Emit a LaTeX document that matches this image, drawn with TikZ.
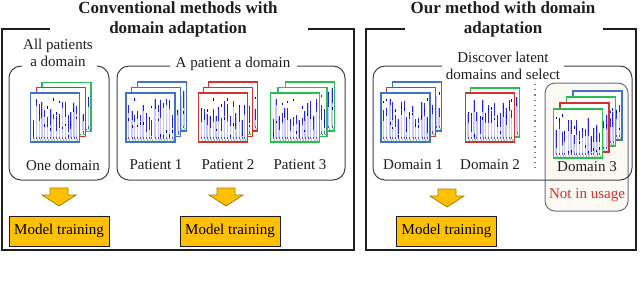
\documentclass[tikz,border=0pt]{standalone}
\usepackage{fontspec}
\setmainfont{Liberation Serif}

\definecolor{fblue}{RGB}{68,114,196}
\definecolor{fred}{RGB}{210,50,50}
\definecolor{fgreen}{RGB}{40,190,80}
\definecolor{gold}{RGB}{255,192,0}
\definecolor{goldline}{RGB}{170,125,0}
\definecolor{beige}{RGB}{252,249,242}
\definecolor{slate}{RGB}{100,112,140}
\definecolor{specblue}{RGB}{0,0,235}
\definecolor{ink}{RGB}{30,30,30}

\tikzset{
  outerbox/.style={line width=0.65pt, draw=ink},
  innerbox/.style={line width=0.5pt, draw=ink!85, rounded corners=6pt},
  % streaks, drawn round the frame's centre
  spec/.style={path picture={
    \foreach \i in {0,...,15} {
      \pgfmathsetmacro{\sx}{-22+2.9*\i+0.8*rnd}
      \pgfmathsetmacro{\sa}{-19+22*rnd}
      \pgfmathsetmacro{\sb}{\sa+5+14*rnd}
      \pgfmathsetmacro{\sy}{-20+38*rnd}
      \draw[specblue!22, line width=0.7pt] (\sx,\sa) -- (\sx,20);
      \draw[specblue!85, line width=0.5pt] (\sx,\sa) -- (\sx,\sb);
      \draw[specblue, line width=0.5pt] (\sx,\sy) -- (\sx,\sy+2.5);
      \draw[specblue!70, line width=0.4pt] (\sx,19) -- (\sx,21.5);
      \fill[fgreen!80!black] (\sx+1,22.5) circle (0.35pt);
    }}},
  frame/.style={minimum size=24.5pt, inner sep=0pt, fill=white, line width=0.6pt, spec},
  trainbox/.style={draw=ink, line width=0.5pt, fill=gold, minimum width=50pt,
    minimum height=15pt, inner sep=0pt},
  title/.style={font=\bfseries\fontsize{8.5}{10}\selectfont, text=ink, align=center, inner sep=0pt},
  lbl/.style={font=\fontsize{7.5}{8.5}\selectfont, text=ink, align=center, inner sep=0pt},
  blockarr/.style={fill=gold, draw=goldline, line width=0.4pt},
  pics/blockdown/.style={code={
    \draw[blockarr] (-9,0) -- (9,0) -- (9,7) -- (17,7) -- (0,18) -- (-17,7) -- (-9,7) -- cycle;}}
}

\begin{document}
\begin{tikzpicture}[x=0.5pt, y=-0.5pt, every node/.style={font=\fontsize{7.5}{8.5}\selectfont}]
  \pgfmathsetseed{11}
  \useasboundingbox (0,0) rectangle (640,284);
  % Outer frames, open at the titles
  \draw[outerbox] (50,29) -- (2,29) -- (2,250) -- (354,250) -- (354,29) -- (308,29);
  \draw[outerbox] (405,29) -- (366,29) -- (366,250) -- (636,250) -- (636,29) -- (603,29);
  \node[title] (title1) at (178,19) {Conventional methods with\\domain adaptation};
  \node[title] (title2) at (503,19) {Our method with domain\\adaptation};
  % Domain 3 panel (drawn below the big rounded box)
  \draw[fill=beige, draw=slate, line width=0.5pt, rounded corners=5pt] (545,83) rectangle (628,211);
  % Inner rounded boxes, open at their labels
  \draw[innerbox] (22,66) -- (9,66) -- (9,180) -- (109,180) -- (109,66) -- (98,66);
  \draw[innerbox] (170,66) -- (117,66) -- (117,180) -- (345,180) -- (345,66) -- (297,66);
  \draw[innerbox] (442,66) -- (373,66) -- (373,180) -- (632,180) -- (632,66) -- (564,66);
  \node[lbl] (allpat) at (58,53) {All patients\\a domain};
  \node[lbl] (onepat) at (233,64) {A patient a domain};
  \node[lbl] (discover) at (503,65.5) {Discover latent\\domains and select};

  % Stacks of spectrograms
  \node[frame, draw=fgreen] (all3) at (66.5,107) {};
  \node[frame, draw=fred] (all2) at (61,112) {};
  \node[frame, draw=fblue] (all1) at (55,117.5) {};

  \node[frame, draw=fblue] (pa3) at (162,106.5) {};
  \node[frame, draw=fblue] (pa2) at (156,112) {};
  \node[frame, draw=fblue] (pa1) at (150.5,117.5) {};
  \node[frame, draw=fred] (pb3) at (233,106.5) {};
  \node[frame, draw=fred] (pb2) at (228,112) {};
  \node[frame, draw=fred] (pb1) at (223,117.5) {};
  \node[frame, draw=fgreen] (pc3) at (310,106.5) {};
  \node[frame, draw=fgreen] (pc2) at (302.5,112) {};
  \node[frame, draw=fgreen] (pc1) at (295,117.5) {};

  \node[frame, draw=fblue] (da3) at (417,106.5) {};
  \node[frame, draw=fred] (da2) at (411,112) {};
  \node[frame, draw=fblue] (da1) at (405.5,117.5) {};
  \node[frame, draw=fgreen] (db2) at (495,112.5) {};
  \node[frame, draw=fred] (db1) at (490,117.5) {};
  \node[frame, draw=fblue] (dc4) at (597.5,115.5) {};
  \node[frame, draw=fgreen] (dc3) at (591,121.5) {};
  \node[frame, draw=fred] (dc2) at (584.5,127.5) {};
  \node[frame, draw=fgreen] (dc1) at (578,133.5) {};

  % Captions under the stacks
  \node[lbl] (onedom) at (63,165) {One domain};
  \node[lbl] (pat1) at (156,165) {Patient 1};
  \node[lbl] (pat2) at (228,165) {Patient 2};
  \node[lbl] (pat3) at (300,165) {Patient 3};
  \node[lbl] (dom1) at (413,165) {Domain 1};
  \node[lbl] (dom2) at (490,165) {Domain 2};
  \node[lbl] (dom3) at (587,167) {Domain 3};
  \node[lbl, text=fred] (notuse) at (587,195) {Not in usage};
  \coordinate (sepT) at (535,84);
  \coordinate (sepB) at (535,168);
  \draw[gray, dotted, line width=0.6pt] (sepT) -- (sepB);

  % Arrows down to training
  \coordinate (arr1) at (59,188);
  \coordinate (arr2) at (226,188);
  \coordinate (arr3) at (447,189);
  \pic at (arr1) {blockdown};
  \pic at (arr2) {blockdown};
  \pic at (arr3) {blockdown};
  \node[trainbox] (train1) at (59,231) {Model training};
  \node[trainbox] (train2) at (230,231) {Model training};
  \node[trainbox] (train3) at (446.5,231) {Model training};
\end{tikzpicture}
\end{document}
